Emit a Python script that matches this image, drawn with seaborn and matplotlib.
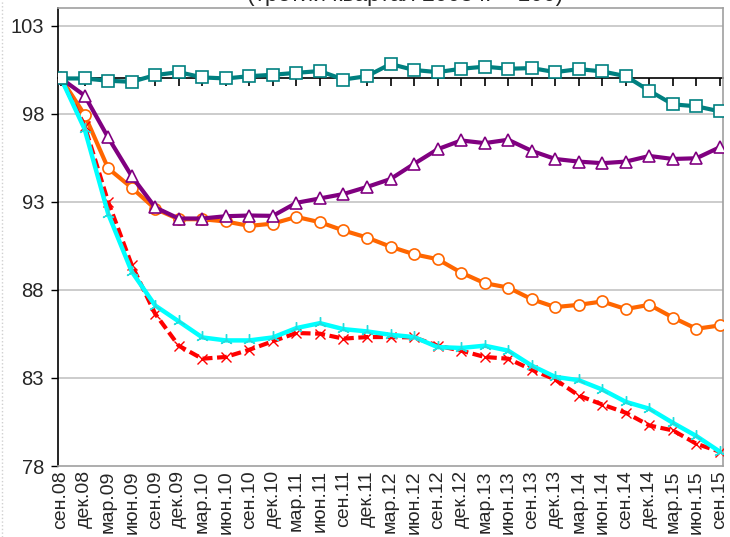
import numpy as np
import pandas as pd
import matplotlib
matplotlib.use("Agg")
import matplotlib.pyplot as plt
import seaborn as sns
from matplotlib.lines import Line2D

# quarters, Sep 2008 = 100
quarters = [
    "сен.08", "дек.08", "мар.09", "июн.09", "сен.09", "дек.09", "мар.10",
    "июн.10", "сен.10", "дек.10", "мар.11", "июн.11", "сен.11", "дек.11",
    "мар.12", "июн.12", "сен.12", "дек.12", "мар.13", "июн.13", "сен.13",
    "дек.13", "мар.14", "июн.14", "сен.14", "дек.14", "мар.15", "июн.15",
    "сен.15",
]

teal = [100.0, 100.0, 99.87, 99.81, 100.19, 100.36, 100.06, 100.0, 100.13,
        100.21, 100.32, 100.42, 99.94, 100.13, 100.82, 100.48, 100.36, 100.55,
        100.67, 100.55, 100.59, 100.36, 100.53, 100.40, 100.13, 99.30, 98.53,
        98.42, 98.13]
purple = [100.0, 99.03, 96.65, 94.46, 92.68, 92.05, 92.05, 92.18, 92.22,
          92.20, 92.94, 93.19, 93.44, 93.84, 94.29, 95.15, 95.98, 96.48,
          96.33, 96.52, 95.89, 95.43, 95.28, 95.19, 95.28, 95.60, 95.43,
          95.47, 96.10]
orange = [100.0, 97.94, 94.90, 93.80, 92.60, 92.01, 92.01, 91.88, 91.63,
          91.76, 92.14, 91.84, 91.37, 90.97, 90.45, 90.02, 89.74, 88.98,
          88.38, 88.13, 87.47, 87.02, 87.15, 87.34, 86.91, 87.15, 86.43,
          85.79, 85.98]
red = [100.0, 97.32, 93.00, 89.42, 86.64, 84.83, 84.09, 84.19, 84.60, 85.08,
       85.55, 85.51, 85.23, 85.32, 85.32, 85.30, 84.83, 84.55, 84.19, 84.09,
       83.47, 82.91, 82.00, 81.49, 81.02, 80.30, 80.02, 79.26, 78.81]
cyan = [100.0, 97.13, 92.33, 89.04, 87.11, 86.21, 85.30, 85.13, 85.13,
        85.30, 85.83, 86.11, 85.77, 85.64, 85.45, 85.32, 84.75, 84.70, 84.83,
        84.55, 83.70, 83.06, 82.87, 82.34, 81.64, 81.25, 80.45, 79.70, 78.81]

y_ticks = [78, 83, 88, 93, 98, 103]
title = "(третий квартал 2008 г. = 100)"


def main():
    sns.set_style("white")
    plt.rcParams["font.family"] = ["Liberation Sans", "DejaVu Sans"]

    idx = np.arange(len(quarters))
    df = pd.DataFrame({"q": idx, "teal": teal, "purple": purple,
                       "orange": orange, "red": red, "cyan": cyan})

    fig = plt.figure(figsize=(7.30, 5.37), dpi=100)
    ax = fig.add_axes([58 / 730, 71 / 537, 665 / 730, 458 / 537])

    for y in y_ticks[1:]:
        ax.axhline(y, color="#c8c8c8", lw=1.3, zorder=0)

    sns.lineplot(data=df, x="q", y="orange", ax=ax, color="#ff6600", lw=3,
                 marker="o", markersize=8, markerfacecolor="white",
                 markeredgecolor="#ff6600", markeredgewidth=1.2, zorder=3)
    sns.lineplot(data=df, x="q", y="purple", ax=ax, color="#800080", lw=3,
                 marker="^", markersize=9, markerfacecolor="white",
                 markeredgecolor="#800080", markeredgewidth=1.2, zorder=3)
    sns.lineplot(data=df, x="q", y="red", ax=ax, color="#ff0000", lw=3,
                 marker="x", markersize=7, markeredgewidth=1.0,
                 markeredgecolor="#ff0000", dashes=(2.4, 1.1), zorder=4)
    sns.lineplot(data=df, x="q", y="cyan", ax=ax, color="#00ffff", lw=3.2,
                 marker=(3, 2, 0), markersize=9, markeredgewidth=1.0,
                 markeredgecolor="#22dddd", zorder=5)
    sns.lineplot(data=df, x="q", y="teal", ax=ax, color="#008080", lw=3,
                 marker="s", markersize=8, markerfacecolor="white",
                 markeredgecolor="#008080", markeredgewidth=1.2, zorder=6)

    ax.set_xlim(-0.13, len(quarters) - 1 + 0.13)
    ax.set_ylim(78, 104)
    ax.set_xlabel("")
    ax.set_ylabel("")

    ax.set_yticks(y_ticks)
    ax.tick_params(axis="y", direction="out", length=5, width=1, pad=5,
                   labelsize=14.5, left=True, color="black")
    ax.set_xticks(idx)
    ax.set_xticklabels(quarters, rotation=90, fontsize=14, va="top")
    ax.tick_params(axis="x", length=0, pad=3)

    for side in ["top", "right", "bottom"]:
        ax.spines[side].set_color("#a0a0a0")
        ax.spines[side].set_linewidth(1.2)
    ax.spines["left"].set_color("black")
    ax.spines["left"].set_linewidth(1.2)

    # category axis crossing at 100
    pos = (100 - 78) / (104 - 78)
    sec = ax.secondary_xaxis(pos)
    sec.set_alignment("bottom")
    sec.set_xticks(idx)
    sec.set_xticklabels([])
    sec.tick_params(axis="x", direction="out", length=6, width=1.2,
                    color="black")
    for s in sec.spines.values():
        s.set_color("black")
        s.set_linewidth(1.2)

    fig.text(405 / 730, 1 - 0.5 / 537, title, ha="center", va="baseline",
             fontsize=16.5)
    fig.add_artist(Line2D([0.003, 0.003], [0, 1], transform=fig.transFigure,
                          ls=":", color="#d0d0d0", lw=1))

    fig.savefig("out.png", dpi=100)
    plt.close(fig)


if __name__ == "__main__":
    main()
